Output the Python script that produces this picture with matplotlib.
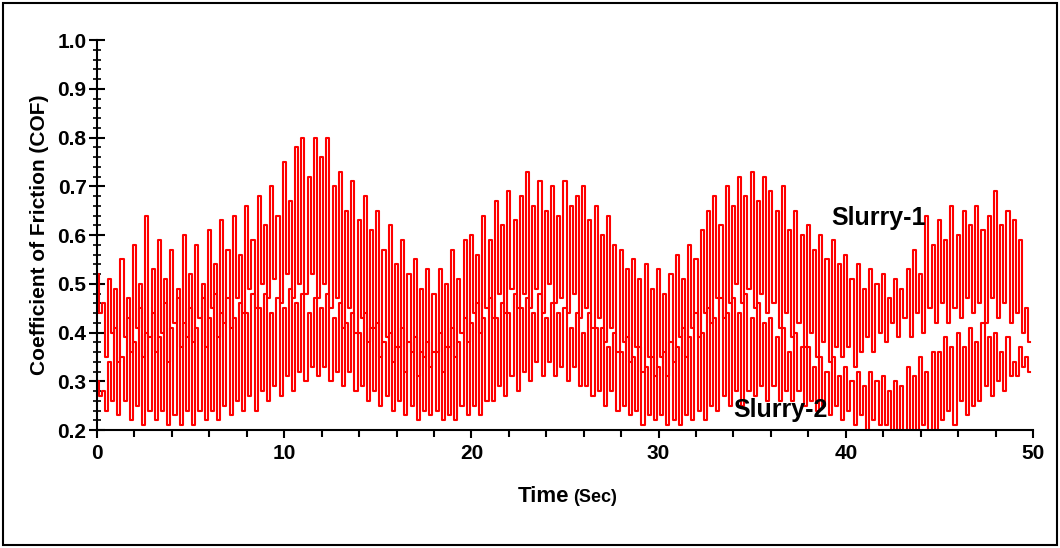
import numpy as np
import matplotlib
matplotlib.use('Agg')
import matplotlib.pyplot as plt
from matplotlib.patches import Rectangle
from matplotlib.ticker import MultipleLocator

plt.rcParams['font.family'] = ['Liberation Sans', 'DejaVu Sans']
plt.rcParams['font.weight'] = 'bold'

# COF x100, three oscillation cycles per second (one row of 3 = one second)
slurry1_peaks = [
    52, 46, 51,  49, 55, 47,  58, 50, 64,  53, 59, 51,  57, 49, 60,
    52, 58, 50,  61, 54, 63,  57, 64, 56,  66, 59, 68,  62, 70, 64,
    75, 67, 78,  80, 72, 80,  76, 80, 70,  73, 65, 71,  63, 68, 61,
    65, 57, 62,  54, 59, 52,  55, 49, 53,  48, 53, 50,  57, 51, 59,
    60, 56, 64,  59, 67, 62,  69, 63, 68,  73, 66, 71,  65, 70, 64,
    71, 66, 68,  70, 63, 66,  60, 64, 58,  57, 53, 55,  51, 54, 49,
    53, 48, 52,  56, 51, 58,  55, 61, 65,  68, 62, 70,  66, 72, 68,
    73, 67, 72,  69, 65, 70,  61, 65, 60,  62, 57, 60,  55, 59, 54,
    56, 51, 54,  49, 53, 50,  52, 47, 51,  49, 53, 57,  52, 64, 58,
    63, 59, 66,  60, 65, 62,  66, 61, 64,  69, 62, 65,  63, 59, 45,
]
slurry1_troughs = [
    44, 35, 40,  34, 39, 36,  41, 35, 39,  36, 40, 34,  42, 37, 39,
    38, 43, 37,  45, 39, 42,  41, 47, 44,  49, 45, 50,  47, 51, 46,
    52, 47, 50,  48, 52, 47,  50, 45, 47,  41, 45, 40,  43, 38, 41,
    35, 39, 34,  37, 32, 36,  31, 35, 33,  36, 32, 37,  35, 40, 38,
    44, 40, 45,  43, 48, 44,  49, 45, 48,  45, 49, 44,  50, 46, 47,
    44, 48, 43,  45, 41, 43,  38, 41, 36,  38, 34, 37,  32, 35, 31,
    35, 31, 34,  39, 35, 41,  39, 44, 42,  47, 43, 46,  50, 46, 49,
    45, 48, 44,  46, 41, 44,  39, 42, 37,  40, 35, 38,  34, 37, 35,
    37, 33, 36,  39, 36, 40,  38, 42, 39,  43, 39, 44,  40, 45, 42,
    46, 42, 45,  43, 47, 44,  46, 42, 47,  43, 46, 42,  44, 40, 38,
]
slurry2_peaks = [
    30, 28, 34,  41, 35, 43,  38, 45, 40,  44, 39, 46,  41, 47, 42,
    45, 41, 47,  43, 48, 44,  47, 43, 46,  44, 48, 45,  48, 44, 47,
    45, 49, 46,  48, 44, 47,  45, 48, 43,  46, 42, 44,  40, 44, 41,
    42, 38, 40,  37, 41, 38,  39, 36, 38,  36, 40, 37,  41, 38, 43,
    42, 46, 43,  47, 43, 46,  44, 48, 45,  47, 44, 48,  43, 46, 44,
    45, 41, 44,  40, 44, 41,  41, 37, 40,  36, 39, 35,  37, 33, 35,
    33, 36, 38,  37, 41, 39,  44, 40, 45,  43, 47, 44,  47, 44, 48,
    43, 46, 42,  43, 39, 41,  36, 40, 37,  37, 33, 35,  32, 35, 31,
    33, 30, 32,  29, 32, 30,  31, 28, 30,  29, 33, 31,  35, 32, 36,
    36, 39, 37,  40, 37, 41,  38, 42, 39,  40, 36, 39,  34, 37, 35,
]
slurry2_troughs = [
    27, 24, 26,  23, 26, 22,  25, 21, 24,  22, 24, 21,  23, 21, 24,
    21, 24, 22,  24, 22, 25,  23, 26, 24,  27, 24, 28,  26, 29, 27,
    31, 28, 32,  30, 33, 31,  33, 30, 32,  29, 32, 28,  29, 26, 28,
    25, 27, 24,  26, 23, 25,  22, 24, 23,  24, 22, 23,  22, 25, 23,
    25, 23, 26,  26, 29, 27,  31, 28, 32,  30, 34, 31,  34, 31, 33,
    30, 33, 29,  29, 27, 28,  25, 28, 24,  25, 23, 24,  21, 23, 22,
    23, 21, 22,  21, 23, 22,  24, 22, 25,  24, 27, 25,  28, 25, 28,
    27, 29, 26,  29, 26, 28,  26, 28, 25,  26, 24, 25,  23, 25, 22,
    24, 21, 23,  20, 22, 21,  21, 18, 20,  18, 20, 19,  21, 18, 20,
    22, 24, 21,  26, 23, 25,  26, 29, 27,  30, 28, 31,  31, 33, 32,
]
cycles_per_sec = 3


def build_trace(peaks, troughs):
    # peak at start of each cycle, trough half a cycle later
    n = len(peaks)
    t = np.empty(2 * n)
    y = np.empty(2 * n)
    t[0::2] = np.arange(n) / cycles_per_sec
    t[1::2] = (np.arange(n) + 0.5) / cycles_per_sec
    y[0::2] = np.array(peaks) / 100
    y[1::2] = np.array(troughs) / 100
    return t, y


fig = plt.figure(figsize=(10.6, 5.48), dpi=100)
ax = fig.add_axes([0.0915, 0.2153, 0.8830, 0.7117])

for peaks, troughs in [(slurry1_peaks, slurry1_troughs), (slurry2_peaks, slurry2_troughs)]:
    t, y = build_trace(peaks, troughs)
    ax.plot(t, y, color='#ff0000', linewidth=1.5, drawstyle='steps-mid')

ax.set_xlim(0, 50)
ax.set_ylim(0.2, 1.0)
ax.spines['top'].set_visible(False)
ax.spines['right'].set_visible(False)
for s in ['left', 'bottom']:
    ax.spines[s].set_linewidth(1.5)

ax.xaxis.set_major_locator(MultipleLocator(10))
ax.xaxis.set_minor_locator(MultipleLocator(2))
ax.yaxis.set_major_locator(MultipleLocator(0.1))
ax.yaxis.set_minor_locator(MultipleLocator(0.02))
ax.tick_params(axis='x', which='major', direction='out', length=6, width=1.5, labelsize=15, pad=4)
ax.tick_params(axis='x', which='minor', direction='out', length=5, width=1.5)
ax.tick_params(axis='y', which='major', direction='inout', length=11, width=1.5, labelsize=15, pad=2)
ax.tick_params(axis='y', which='minor', direction='inout', length=6, width=1.2)
ax.yaxis.set_major_formatter(plt.FuncFormatter(lambda v, p: f'{v:.1f}'))
for lab in ax.get_xticklabels() + ax.get_yticklabels():
    lab.set_fontweight('bold')

ax.set_ylabel('Coefficient of Friction (COF)', fontsize=15, fontweight='bold', labelpad=6)
fig.text(0.537, 0.084, 'Time', fontsize=16, fontweight='bold', ha='right', va='baseline')
fig.text(0.541, 0.084, '(Sec)', fontsize=13, fontweight='bold', ha='left', va='baseline')

ax.text(39.2, 0.635, 'Slurry-1', fontsize=18, fontweight='bold', va='center')
ax.text(34.0, 0.241, 'Slurry-2', fontsize=18, fontweight='bold', va='center')

fig.patches.append(Rectangle((0.003, 0.005), 0.994, 0.99, transform=fig.transFigure,
                             fill=False, edgecolor='black', linewidth=1.5))

fig.savefig('out.png', dpi=100)
